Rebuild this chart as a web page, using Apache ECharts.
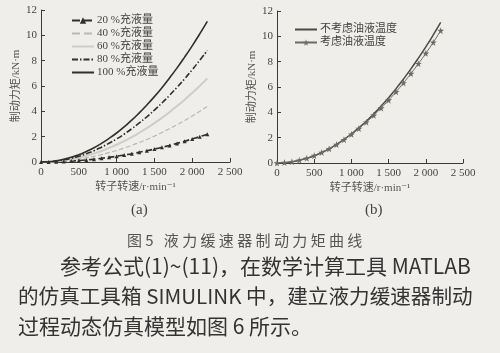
<!DOCTYPE html>
<html>
<head>
<meta charset="utf-8">
<script src="https://cdn.jsdelivr.net/npm/echarts@6/dist/echarts.min.js"></script>
<style>
  html, body { margin: 0; padding: 0; background: #efeeea; }
  #main { width: 500px; height: 353px; }
</style>
</head>
<body>
<div id="main"></div>
<script>
// 转速 (r/min)
var speed = [0, 100, 200, 300, 400, 500, 600, 700, 800, 900, 1000, 1100,
	1200, 1300, 1400, 1500, 1600, 1700, 1800, 1900, 2000, 2100, 2200];
// (a) 不同充液量下的制动力矩 kN·m
var fill20 = [0, 0, 0.02, 0.04, 0.07, 0.11, 0.16, 0.22, 0.29, 0.37, 0.45, 0.55,
	0.65, 0.77, 0.89, 1.02, 1.16, 1.31, 1.47, 1.64, 1.82, 2.0, 2.2];
var fill40 = [0, 0.01, 0.04, 0.08, 0.15, 0.23, 0.33, 0.44, 0.58, 0.74, 0.91, 1.1,
	1.31, 1.54, 1.78, 2.04, 2.33, 2.63, 2.94, 3.28, 3.63, 4.0, 4.4];
var fill60 = [0, 0.01, 0.05, 0.12, 0.22, 0.34, 0.49, 0.67, 0.87, 1.11, 1.36, 1.65,
	1.96, 2.31, 2.68, 3.07, 3.49, 3.94, 4.42, 4.92, 5.45, 6.01, 6.6];
var fill80 = [0, 0.02, 0.07, 0.17, 0.29, 0.45, 0.66, 0.89, 1.17, 1.48, 1.82, 2.2,
	2.62, 3.08, 3.57, 4.1, 4.66, 5.26, 5.9, 6.57, 7.28, 8.03, 8.8];
var fill100 = [0, 0.02, 0.09, 0.21, 0.37, 0.57, 0.83, 1.12, 1.47, 1.86, 2.29, 2.78,
	3.3, 3.88, 4.5, 5.16, 5.87, 6.63, 7.43, 8.28, 9.17, 10.11, 11.1];
// (b) 油液温度影响
var noTemp = [0, 0.02, 0.09, 0.21, 0.37, 0.57, 0.83, 1.12, 1.47, 1.86, 2.29, 2.78,
	3.3, 3.88, 4.5, 5.16, 5.87, 6.63, 7.43, 8.28, 9.17, 10.11, 11.1];
var withTemp = [0, 0.03, 0.1, 0.22, 0.38, 0.58, 0.83, 1.12, 1.46, 1.84, 2.26, 2.72,
	3.22, 3.76, 4.34, 4.96, 5.62, 6.32, 7.06, 7.84, 8.66, 9.52, 10.45];
var xTicks = ['0', '500', '1 000', '1 500', '2 000', '2 500'];
var namesA = ['20 %充液量', '40 %充液量', '60 %充液量', '80 %充液量', '100 %充液量'];
var namesB = ['不考虑油液温度', '考虑油液温度'];

var serif = '"Liberation Serif", "DejaVu Serif", "Noto Sans CJK SC"';
var ink = '#3a3b35';
var starPath = 'path://M50,0 L61,35 L98,35 L68,57 L79,91 L50,70 L21,91 L32,57 L2,35 L39,35 Z';

function pairs(ys) {
	return speed.map(function(s, i) { return [s, ys[i]]; });
}

function xAxisCfg(idx) {
	return {
		gridIndex : idx,
		type : 'value',
		min : 0,
		max : 2500,
		interval : 500,
		name : '转子转速/r·min⁻¹',
		nameLocation : 'middle',
		nameGap : 20,
		nameTextStyle : { fontFamily : serif, fontSize : 11, color : '#555' },
		axisLine : { lineStyle : { color : ink, width : 1 } },
		axisTick : { inside : true, length : 4, lineStyle : { color : ink } },
		axisLabel : {
			fontFamily : serif, fontSize : 11, color : '#444', margin : 5,
			formatter : function(v) { return xTicks[v / 500]; }
		},
		splitLine : { show : false }
	};
}

function yAxisCfg(idx) {
	return {
		gridIndex : idx,
		type : 'value',
		min : 0,
		max : 12,
		interval : 2,
		name : '制动力矩/kN·m',
		nameLocation : 'middle',
		nameGap : 18,
		nameTextStyle : { fontFamily : serif, fontSize : 11, color : '#555' },
		axisLine : { show : true, lineStyle : { color : ink, width : 1 } },
		axisTick : { show : true, inside : true, length : 4, lineStyle : { color : ink } },
		axisLabel : { fontFamily : serif, fontSize : 11, color : '#444', margin : 4 },
		splitLine : { show : false }
	};
}

function lineSeries(name, grid, ys, color, type, width, extra) {
	var s = {
		name : name,
		type : 'line',
		xAxisIndex : grid,
		yAxisIndex : grid,
		data : pairs(ys),
		smooth : true,
		symbol : 'none',
		lineStyle : { color : color, type : type, width : width },
		itemStyle : { color : color }
	};
	for (var k in extra) s[k] = extra[k];
	return s;
}

// 图例里只画线的项
function plain(name) {
	return { name : name, itemStyle : { opacity : 0 } };
}

var chart = echarts.init(document.getElementById('main'));
var option = {
	backgroundColor : '#efeeea',
	animation : false,
	grid : [
		{ left : 41, top : 10, width : 189, height : 152 },
		{ left : 277, top : 11, width : 186, height : 152 }
	],
	xAxis : [ xAxisCfg(0), xAxisCfg(1) ],
	yAxis : [ yAxisCfg(0), yAxisCfg(1) ],
	legend : [ {
		data : [ namesA[0], plain(namesA[1]), plain(namesA[2]), plain(namesA[3]), plain(namesA[4]) ],
		orient : 'vertical',
		left : 66,
		top : 10,
		itemWidth : 22,
		itemHeight : 8,
		itemGap : 2,
		textStyle : { fontFamily : serif, fontSize : 11, color : '#444', padding : [0, 0, 0, -2] }
	}, {
		data : [ plain(namesB[0]), namesB[1] ],
		orient : 'vertical',
		left : 289,
		top : 19,
		itemWidth : 22,
		itemHeight : 8,
		itemGap : 2,
		textStyle : { fontFamily : serif, fontSize : 11, color : '#444', padding : [0, 0, 0, -2] }
	} ],
	series : [
		lineSeries(namesA[0], 0, fill20, '#2f302a', 'dashed', 1.6, {
			symbol : 'triangle', symbolSize : 4, showAllSymbol : true
		}),
		lineSeries(namesA[1], 0, fill40, '#b8b8b4', 'dashed', 1.2, {}),
		lineSeries(namesA[2], 0, fill60, '#cdcdc9', 'solid', 2, {}),
		lineSeries(namesA[3], 0, fill80, '#2f302a', [6, 2, 1.5, 2], 1.6, {}),
		lineSeries(namesA[4], 0, fill100, '#2f302a', 'solid', 1.6, {}),
		lineSeries(namesB[0], 1, noTemp, '#4a4c43', 'solid', 1.5, {}),
		lineSeries(namesB[1], 1, withTemp, '#6a6c62', 'solid', 1, {
			symbol : starPath, symbolSize : 7, showAllSymbol : true
		})
	],
	graphic : [
		{ type : 'text', left : 131, top : 203,
			style : { text : '(a)', font : '15px ' + serif, fill : '#444' } },
		{ type : 'text', left : 365, top : 203,
			style : { text : '(b)', font : '15px ' + serif, fill : '#444' } },
		{ type : 'text', left : 127, top : 233,
			style : { text : '图 5   液 力 缓 速 器 制 动 力 矩 曲 线', font : '15px "Noto Sans CJK SC"', fill : '#555' } },
		{ type : 'text', left : 60, top : 256,
			style : { text : '参考公式(1)~(11)，在数学计算工具 MATLAB', font : '21px "Noto Sans CJK SC"', fill : '#333' } },
		{ type : 'text', left : 18, top : 286,
			style : { text : '的仿真工具箱 SIMULINK 中，建立液力缓速器制动', font : '20.6px "Noto Sans CJK SC"', fill : '#333' } },
		{ type : 'text', left : 18, top : 316,
			style : { text : '过程动态仿真模型如图 6 所示。', font : '21px "Noto Sans CJK SC"', fill : '#333' } }
	]
};
chart.setOption(option);
</script>
</body>
</html>
